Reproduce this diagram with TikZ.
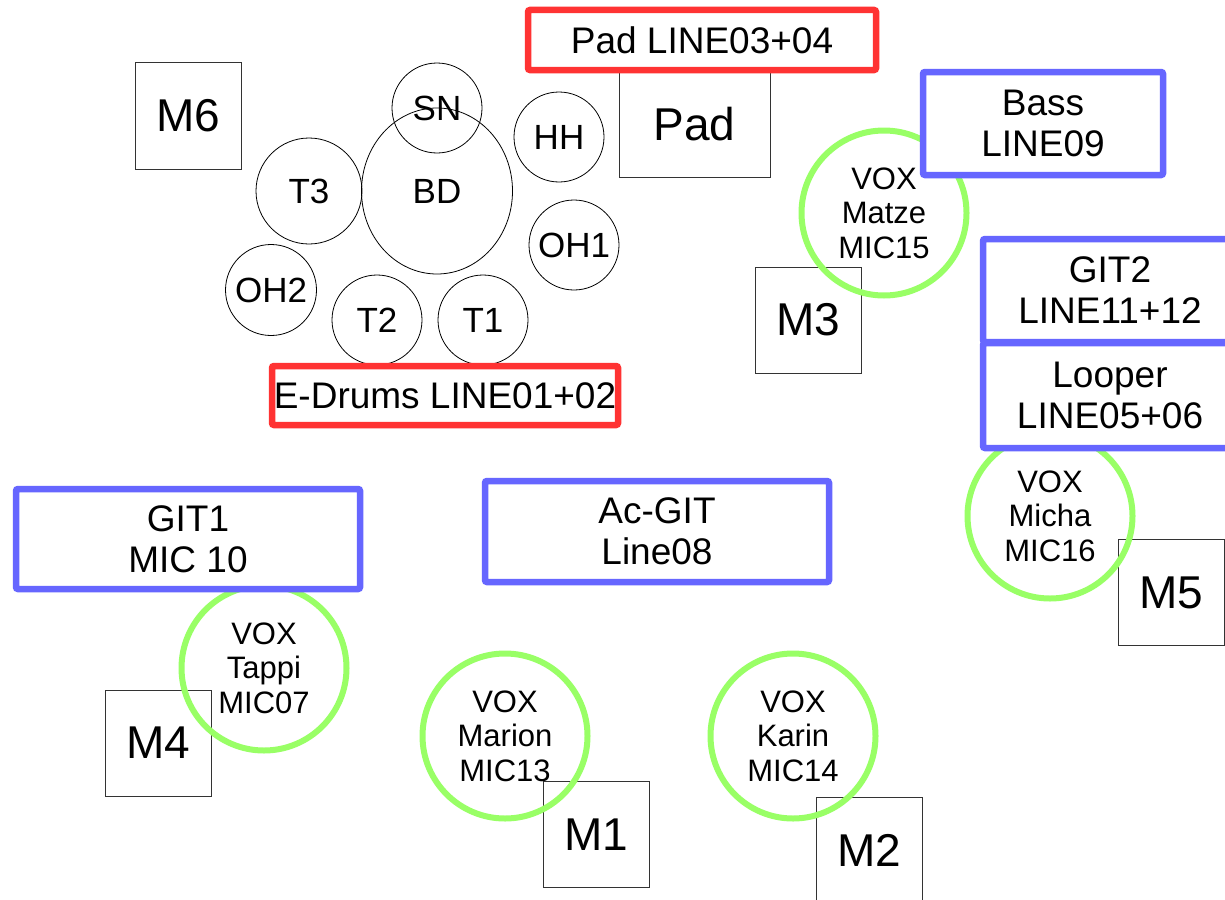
\documentclass[tikz,border=0pt]{standalone}
\usepackage{fontspec}
\setmainfont{Liberation Sans}
\usetikzlibrary{shapes.geometric}
\definecolor{boxred}{RGB}{255,51,51}
\definecolor{boxblue}{RGB}{102,102,255}
\definecolor{voxgreen}{RGB}{153,255,102}
\begin{document}
\begin{tikzpicture}[x=1pt,y=-1pt,
 mbox/.style={draw=black!80, line width=1pt, minimum width=106pt, minimum height=106pt, inner sep=0pt, font=\fontsize{46}{50}\selectfont},
 drum/.style={draw=black, line width=0.8pt, circle, inner sep=0pt, font=\fontsize{35}{40}\selectfont},
 redbox/.style={draw=boxred, line width=6.5pt, fill=white, rounded corners=2pt, inner sep=0pt, font=\fontsize{37}{41}\selectfont},
 bluebox/.style={draw=boxblue, line width=6.5pt, fill=white, rounded corners=2pt, inner sep=0pt, align=center, font=\fontsize{37}{41}\selectfont},
 vox/.style={draw=voxgreen, line width=6pt, circle, minimum size=165pt, inner sep=0pt, align=center, font=\fontsize{31}{34.5}\selectfont}
]
\useasboundingbox (0,0) rectangle (1225,899);
\clip (0,0) rectangle (1225,899);
\fill[white] (0,0) rectangle (1225,899);

% monitor boxes
\node[mbox] (m6) at (188,116) {M6};
\node[mbox] (m3) at (808,320) {M3};
\node[mbox] (m5) at (1171,592.5) {M5};
\node[mbox] (m4) at (158,743) {M4};
\node[mbox] (m1) at (596,834.5) {M1};
\node[mbox] (m2) at (869,850) {M2};
\node[mbox, minimum width=151pt, minimum height=105pt] (pad) at (694.5,124.5) {Pad};

% drums
\node[drum, minimum size=106pt] (t3) at (309,191) {T3};
\node[drum, ellipse, minimum width=151pt, minimum height=166pt] (bd) at (437,191) {BD};
\node[drum, minimum size=90pt] (sn) at (437,108) {SN};
\node[drum, minimum size=90pt] (hh) at (559,137) {HH};
\node[drum, minimum size=90pt] (oh1) at (574,245) {OH1};
\node[drum, minimum size=91pt] (oh2) at (271,290) {OH2};
\node[drum, minimum size=90pt] (t2) at (377,320) {T2};
\node[drum, minimum size=90pt] (t1) at (483,320) {T1};

% vocal mics
\node[vox] (matze) at (884,213) {VOX\\Matze\\MIC15};
\node[vox] (micha) at (1050,516) {VOX\\Micha\\MIC16};
\node[vox] (tappi) at (264,668) {VOX\\Tappi\\MIC07};
\node[vox] (marion) at (505,736) {VOX\\Marion\\MIC13};
\node[vox] (karin) at (793,736) {VOX\\Karin\\MIC14};

% line inputs
\node[redbox, minimum width=348pt, minimum height=60pt] (padline) at (702,40) {Pad LINE03+04};
\node[redbox, minimum width=346pt, minimum height=59pt] (edrums) at (445,395.5) {E-Drums LINE01+02};
\node[bluebox, minimum width=240pt, minimum height=103pt] (bass) at (1043,123.5) {Bass\\LINE09};
\node[bluebox, minimum width=254pt, minimum height=103pt] (git2) at (1110,290.5) {GIT2\\LINE11+12};
\node[bluebox, minimum width=254pt, minimum height=105pt] (looper) at (1110,395.5) {Looper\\LINE05+06};
\node[bluebox, minimum width=344pt, minimum height=100pt] (git1) at (188,539) {GIT1\\MIC 10};
\node[bluebox, minimum width=344pt, minimum height=101pt] (acgit) at (657,531.5) {Ac-GIT\\Line08};
\end{tikzpicture}
\end{document}
